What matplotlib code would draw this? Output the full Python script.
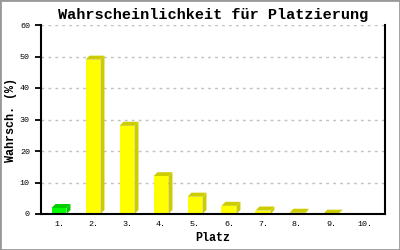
import matplotlib.pyplot as plt
from matplotlib.patches import Polygon, Rectangle


places = [1, 2, 3, 4, 5, 6, 7, 8, 9, 10]
placeLabels = ["1.", "2.", "3.", "4.", "5.", "6.", "7.", "8.", "9.", "10."]
probabilities = [1.9, 49.0, 28.0, 12.0, 5.5, 2.6, 1.1, 0.4, 0.1, 0.0]
barColors = ["#00ff00"] + ["#ffff00"] * 9
sideColors = ["#00cc00"] + ["#cccc00"] * 9

FONT = "Liberation Mono"
BAR_WIDTH = 0.44
DEPTH_PX = 4

figure = plt.figure(figsize=(4, 2.5), dpi=100)
axes = figure.add_axes([0.1025, 0.144, 0.86, 0.756])

axes.set_xlim(0.47, 10.59)
axes.set_ylim(0, 60)

# convert the 3D depth from pixels into data units
inv = axes.transData.inverted()
x0, y0 = inv.transform((0, 0))
x1, y1 = inv.transform((DEPTH_PX, DEPTH_PX))
dx, dy = x1 - x0, y1 - y0

bars = axes.bar(places, probabilities, width=BAR_WIDTH, color=barColors,
                linewidth=0, zorder=3)
for bar, c in zip(bars, sideColors):
    v = bar.get_height()
    if v <= 0:
        continue
    left = bar.get_x()
    right = left + bar.get_width()
    top = Polygon([(left, v), (left + dx, v + dy), (right + dx, v + dy), (right, v)],
                  closed=True, facecolor=c, linewidth=0, zorder=2)
    side = Polygon([(right, 0), (right + dx, min(dy, v + dy)), (right + dx, v + dy), (right, v)],
                   closed=True, facecolor=c, linewidth=0, zorder=2)
    axes.add_patch(top)
    axes.add_patch(side)

axes.set_yticks(range(0, 61, 10))
axes.set_xticks(places)
axes.set_xticklabels(placeLabels)

axes.grid(axis="y", color="#c0c0c0", linestyle=(0, (2, 3)), linewidth=1)
axes.set_axisbelow(True)

axes.spines["top"].set_visible(False)
for s in ["left", "right", "bottom"]:
    axes.spines[s].set_linewidth(1.5)
    axes.spines[s].set_zorder(4)

axes.tick_params(axis="y", length=4, width=1.3, pad=4, labelsize=6)
axes.tick_params(axis="x", length=0, pad=5, labelsize=6)
for label in axes.get_xticklabels() + axes.get_yticklabels():
    label.set_fontfamily(FONT)

axes.set_title("Wahrscheinlichkeit für Platzierung", fontfamily=FONT,
               fontweight="bold", fontsize=11, pad=4)
axes.set_xlabel("Platz", fontfamily=FONT, fontweight="bold", fontsize=8.5, labelpad=3)
axes.set_ylabel("Wahrsch. (%)", fontfamily=FONT, fontweight="bold", fontsize=8.5, labelpad=2)

figure.patches.append(Rectangle((0, 0), 1, 1, transform=figure.transFigure,
                                fill=False, edgecolor="#999999", linewidth=2))

figure.savefig("out.png", dpi=100)
